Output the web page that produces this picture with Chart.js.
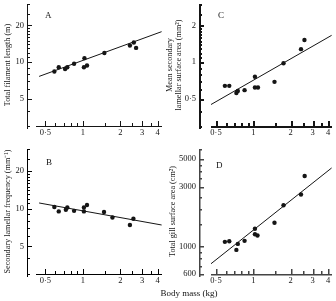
<!DOCTYPE html>
<html>
<head>
<meta charset="utf-8">
<script src="https://cdn.jsdelivr.net/npm/chart.js@4.4.1/dist/chart.umd.min.js"></script>
<style>
  body { margin: 0; background: #fff; width: 336px; height: 301px; position: relative; overflow: hidden; }
  canvas { position: absolute; }
  canvas.over { pointer-events: none; }
  #xlab { position: absolute; left: 140px; width: 98px; top: 288px; text-align: center;
          font: 9px 'Liberation Serif', serif; color: #111; }
</style>
</head>
<body>
<canvas id="panelA" width="166" height="145" style="left:0;top:0"></canvas>
<canvas id="panelC" width="170" height="145" style="left:166px;top:0"></canvas>
<canvas id="panelB" width="166" height="156" style="left:0;top:145px"></canvas>
<canvas id="panelD" width="170" height="156" style="left:166px;top:145px"></canvas>
<canvas id="panelA-axes" class="over" width="166" height="145" style="left:0;top:0"></canvas>
<canvas id="panelC-axes" class="over" width="170" height="145" style="left:166px;top:0"></canvas>
<canvas id="panelB-axes" class="over" width="166" height="156" style="left:0;top:145px"></canvas>
<canvas id="panelD-axes" class="over" width="170" height="156" style="left:166px;top:145px"></canvas>
<div id="xlab">Body mass (kg)</div>
<script>
// body mass (kg) of each fish, read per panel
var massA = [0.59, 0.64, 0.72, 0.75, 0.85, 1.03, 1.02, 1.08, 1.49, 2.39, 2.57, 2.68];
var massB = [0.59, 0.64, 0.73, 0.75, 0.85, 1.02, 1.02, 1.08, 1.48, 1.73, 2.39, 2.55];
var massC = [0.59, 0.64, 0.73, 0.75, 0.85, 1.03, 1.03, 1.09, 1.48, 1.75, 2.42, 2.58];
var massD = [0.59, 0.64, 0.73, 0.75, 0.85, 1.03, 1.03, 1.08, 1.48, 1.75, 2.42, 2.59];

var filamentLength = [8.4, 9.1, 8.8, 9.1, 9.7, 10.8, 9.1, 9.4, 11.9, 13.7, 14.5, 13.1];
var lamellarFreq = [10.3, 9.5, 9.8, 10.2, 9.6, 9.5, 10.2, 10.7, 9.4, 8.5, 7.4, 8.3];
var lamellarArea = [0.64, 0.64, 0.56, 0.58, 0.59, 0.76, 0.62, 0.62, 0.69, 0.98, 1.28, 1.52];
var gillArea = [1085, 1097, 935, 1045, 1105, 1381, 1249, 1220, 1544, 2129, 2597, 3647];

// regression line end points as drawn
var fitMassAB = [0.445, 4.3];
var fitMassCD = [0.456, 4.27];
var fitA = [7.65, 17.8];
var fitB = [11.1, 7.4];
var fitC = [0.45, 1.66];
var fitD = [725, 4230];

// tick values
var xMajor = [0.5, 1, 2, 3, 4];
var xMinor = [0.6, 0.7, 0.8, 0.9, 1.5, 2.5, 3.5];
var yMajorAB = [5, 10, 20];
var yMinorAB = [3, 4, 6, 7, 8, 9, 11, 12, 13, 14, 15, 16, 17, 18, 19, 25, 30];
var yMajorC = [0.5, 1, 2];
var yMinorC = [0.3, 0.4, 0.6, 0.7, 0.8, 0.9, 1.1, 1.2, 1.3, 1.4, 1.5, 1.6, 1.7, 1.8, 1.9, 2.5, 3];
var yMajorD = [600, 1000, 3000, 5000];
var yMinorD = [700, 800, 900, 1500, 2000, 2500, 3500, 4000, 4500, 6000];

var ink = '#151515';
var serif = "'Liberation Serif', serif";

var panels = {
  panelA: {
    mass: massA, vals: filamentLength, fitX: fitMassAB, fitY: fitA,
    xMin: 0.42, xMax: 4.33, yMin: 3, yMax: 30, yMajor: yMajorAB, yMinor: yMinorAB,
    top: 1, xh: 19, left: 36, gap: 9, letter: 'A', lx: 9, ly: 12, lw: 1, col: ink,
    title: 'Total filament length (m)', titleLH: 1.2, titlePad: 2.5
  },
  panelB: {
    mass: massB, vals: lamellarFreq, fitX: fitMassAB, fitY: fitB,
    xMin: 0.42, xMax: 4.33, yMin: 3, yMax: 30, yMajor: yMajorAB, yMinor: yMinorAB,
    top: 4, xh: 27, left: 36, gap: 9, letter: 'B', lx: 10, ly: 14, lw: 1, col: '#000',
    title: 'Secondary lamellar frequency (mm\u207b\u00b9)', titleLH: 1.2, titlePad: 2.5
  },
  panelC: {
    mass: massC, vals: lamellarArea, fitX: fitMassCD, fitY: fitC,
    xMin: 0.456, xMax: 4.3, yMin: 0.3, yMax: 3, yMajor: yMajorC, yMinor: yMinorC,
    top: 1, xh: 19, left: 45, gap: 12, letter: 'C', lx: 7, ly: 12, lw: 2, col: ink,
    title: ['Mean secondary', 'lamellar surface area (mm\u00b2)'], titleLH: 1.05, titlePad: 0
  },
  panelD: {
    mass: massD, vals: gillArea, fitX: fitMassCD, fitY: fitD,
    xMin: 0.456, xMax: 4.3, yMin: 600, yMax: 6000, yMajor: yMajorD, yMinor: yMinorD,
    top: 3, xh: 27, left: 45, gap: 12, letter: 'D', lx: 5, ly: 17, lw: 1.5, col: '#444',
    title: 'Total gill surface area (cm\u00b2)', titleLH: 1.2, titlePad: 1.5
  }
};

function fmt(v) {
  return String(v).replace('.', '\u00b7');
}

function pairs(xs, ys) {
  return xs.map(function(x, i) { return { x: x, y: ys[i] }; });
}

// axes on an overlay: detached y axis, inward ticks, panel letter
function drawAxes(chart, p, canvas) {
  var ctx = canvas.getContext('2d');
  var a = chart.chartArea, xs = chart.scales.x, ys = chart.scales.y;
  var ax = Math.round(a.left - p.gap);
  var yTop = Math.round(ys.getPixelForValue(p.yMax));
  var bx = Math.round(a.bottom);
  var w = p.lw;
  ctx.fillStyle = p.col;
  ctx.fillRect(ax, yTop, w, bx - yTop + 3);
  ctx.fillRect(Math.round(a.left), bx, Math.round(a.right - a.left), w);
  p.yMajor.forEach(function(v) {
    ctx.fillRect(ax, Math.round(ys.getPixelForValue(v)), 5, w);
  });
  p.yMinor.forEach(function(v) {
    ctx.fillRect(ax, Math.round(ys.getPixelForValue(v)), 3, w);
  });
  xMajor.forEach(function(v) {
    ctx.fillRect(Math.round(xs.getPixelForValue(v)), bx - 5, w, 5);
  });
  xMinor.forEach(function(v) {
    ctx.fillRect(Math.round(xs.getPixelForValue(v)), bx - 3, w, 3);
  });
  ctx.fillStyle = ink;
  ctx.font = '9px ' + serif;
  ctx.textBaseline = 'middle';
  ctx.fillText(p.letter, a.left + p.lx, a.top + p.ly);
}

function makePanel(id) {
  var p = panels[id];
  var chart = new Chart(document.getElementById(id), {
    type: 'scatter',
    data: {
      datasets: [{
        data: pairs(p.mass, p.vals),
        pointRadius: 2.2,
        backgroundColor: ink,
        borderWidth: 0
      }, {
        data: pairs(p.fitX, p.fitY),
        showLine: true,
        pointRadius: 0,
        borderColor: ink,
        borderWidth: 1
      }]
    },
    options: {
      responsive: false,
      animation: false,
      layout: { padding: { top: p.top, right: 1 } },
      plugins: { legend: { display: false }, tooltip: { enabled: false } },
      scales: {
        x: {
          type: 'logarithmic',
          min: p.xMin, max: p.xMax,
          grid: { display: false, drawTicks: false },
          border: { display: false },
          afterBuildTicks: function(s) { s.ticks = xMajor.map(function(v) { return { value: v }; }); },
          afterFit: function(s) { s.height = p.xh; s.paddingLeft = 0; s.paddingRight = 0; },
          ticks: { padding: 2, autoSkip: false, maxRotation: 0, color: ink,
                   font: { family: serif, size: 8.5 }, callback: fmt }
        },
        y: {
          type: 'logarithmic',
          min: p.yMin, max: p.yMax,
          grid: { display: false, drawTicks: false },
          border: { display: false },
          afterBuildTicks: function(s) { s.ticks = p.yMajor.map(function(v) { return { value: v }; }); },
          afterFit: function(s) { s.width = p.left; s.paddingTop = 0; s.paddingBottom = 0; },
          ticks: { padding: p.gap + 3, autoSkip: false, color: ink,
                   font: { family: serif, size: 8.5 }, callback: fmt },
          title: { display: true, text: p.title, color: ink,
                   font: { family: serif, size: 8.2, lineHeight: p.titleLH },
                   padding: { top: p.titlePad, bottom: 0 } }
        }
      }
    }
  });
  drawAxes(chart, p, document.getElementById(id + '-axes'));
  return chart;
}

makePanel('panelA');
makePanel('panelB');
makePanel('panelC');
makePanel('panelD');
</script>
</body>
</html>
